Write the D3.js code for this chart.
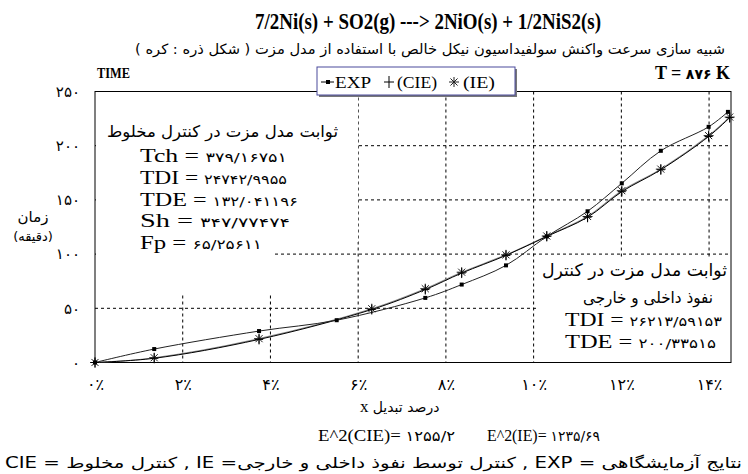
<!DOCTYPE html>
<html>
<head>
<meta charset="utf-8">
<script src="https://cdn.jsdelivr.net/npm/d3@7"></script>
<style>
  body { margin: 0; background: #fff; }
  svg { display: block; }
</style>
</head>
<body>
<div class="chart"></div>
<script>
// axis ticks
const xTicks = [0, 2, 4, 6, 8, 10, 12, 14];
const yTicks = [0, 50, 100, 150, 200, 250];

// experimental points (x in %, time in minutes)
const expX = [0, 1.35, 3.74, 5.51, 7.53, 8.36, 9.37, 10.3, 11.23, 12.01, 12.9, 13.99, 14.43];
const expY = [0, 12.4, 29, 39, 59.6, 71.9, 89.6, 116.3, 139.5, 165.3, 195.3, 217.4, 231.2];

// model points
const modelX = [0, 1.35, 3.74, 6.31, 7.53, 8.36, 9.37, 10.3, 11.23, 12.01, 12.9, 13.99, 14.47];
const cieY = [0, 3.9, 21.3, 48.9, 67.3, 82.5, 98.8, 116.3, 134, 157.6, 177.8, 208.5, 225.9];
const ieY = [0, 4.4, 22.0, 49.6, 68.1, 83.3, 99.3, 116.7, 134.7, 158.5, 178.4, 209.3, 226.4];

const fa = (s) => String(s).replace(/\d/g, (d) => "۰۱۲۳۴۵۶۷۸۹"[d]);
const serif = "'Liberation Serif', 'DejaVu Serif', serif";
const pfont = "'DejaVu Sans', sans-serif";

const width = 748;
const height = 474;
const svg = d3
  .select(".chart")
  .append("svg")
  .attr("width", width)
  .attr("height", height);

svg.append("rect").attr("width", width).attr("height", height).attr("fill", "#fff");

const x = d3.scaleLinear().domain([0, 14.5]).range([95, 731]);
const y = d3.scaleLinear().domain([0, 250]).range([362.5, 91.5]);

// gridlines
svg
  .selectAll(".vgrid")
  .data(xTicks.filter((d) => d > 0))
  .enter()
  .append("line")
  .attr("x1", (d) => x(d))
  .attr("x2", (d) => x(d))
  .attr("y1", y(250))
  .attr("y2", y(0))
  .attr("stroke", "#000")
  .attr("stroke-dasharray", "3,3");

svg
  .selectAll(".hgrid")
  .data(yTicks.filter((d) => d > 0 && d < 250))
  .enter()
  .append("line")
  .attr("x1", x(0))
  .attr("x2", x(14.5))
  .attr("y1", (d) => y(d))
  .attr("y2", (d) => y(d))
  .attr("stroke", "#000")
  .attr("stroke-dasharray", "3,3");

// white boxes behind the notes
svg.append("rect").attr("x", 96).attr("y", 92).attr("width", 262).attr("height", 150).attr("fill", "#fff");
svg.append("rect").attr("x", 96).attr("y", 92).attr("width", 176).attr("height", 201).attr("fill", "#fff");
svg.append("rect").attr("x", 536).attr("y", 258).attr("width", 194).attr("height", 104).attr("fill", "#fff");

// axes
svg
  .append("g")
  .attr("transform", "translate(0," + y(0) + ")")
  .call(d3.axisBottom(x).tickValues(xTicks).tickSize(0).tickPadding(16).tickFormat((d) => fa(d) + "٪"))
  .call((g) => g.select(".domain").remove())
  .selectAll("text")
  .attr("font-family", pfont)
  .attr("font-size", "16px")
  .attr("fill", "#000");

svg
  .append("g")
  .attr("transform", "translate(" + x(0) + ",0)")
  .call(d3.axisLeft(y).tickValues(yTicks).tickSize(0).tickPadding(15).tickFormat((d) => fa(d)))
  .call((g) => g.select(".domain").remove())
  .selectAll("text")
  .attr("font-family", pfont)
  .attr("font-size", "15px")
  .attr("fill", "#000");

// frame
svg
  .append("rect")
  .attr("x", x(0))
  .attr("y", y(250))
  .attr("width", x(14.5) - x(0))
  .attr("height", y(0) - y(250))
  .attr("fill", "none")
  .attr("stroke", "#000");

function addText(tx, ty, str, font, size, opts) {
  opts = opts || {};
  const t = svg
    .append("text")
    .attr("x", tx)
    .attr("y", ty)
    .attr("font-family", font)
    .attr("font-size", size)
    .attr("text-anchor", opts.anchor || "start")
    .attr("font-weight", opts.bold ? "bold" : "normal")
    .attr("fill", "#000")
    .text(str);
  if (opts.rtl) t.attr("direction", "rtl").attr("unicode-bidi", "embed");
  if (opts.len) t.attr("textLength", opts.len).attr("lengthAdjust", "spacingAndGlyphs");
  return t;
}

function mixText(tx, ty, label, num, len) {
  const t = svg.append("text").attr("x", tx).attr("y", ty).attr("fill", "#000");
  t.append("tspan").attr("font-family", serif).attr("font-size", "19px").text(label + " = ");
  t.append("tspan").attr("font-family", pfont).attr("font-size", "13px").text(fa(num));
  if (len) t.attr("textLength", len).attr("lengthAdjust", "spacingAndGlyphs");
}

// left note
addText(338, 137, "ثوابت مدل مزت در کنترل مخلوط", pfont, "16px", { rtl: true, len: 231 });
mixText(140, 162, "Tch", "379/16751", 147);
mixText(140, 184, "TDI", "24742/9955", 147);
mixText(140, 206, "TDE", "132/041196", 158);
mixText(140, 227, "Sh", "347/77474", 150);
mixText(140, 249, "Fp", "65/25611", 122);

// right note
addText(727, 276, "ثوابت مدل مزت در کنترل", pfont, "17px", { rtl: true, len: 185 });
addText(713, 303, "نفوذ داخلی و خارجی", pfont, "16px", { rtl: true, len: 130 });
mixText(565, 326, "TDI", "26213/59153", 157);
mixText(565, 348, "TDE", "200/33515", 151);

// data lines
const line = d3
  .line()
  .x((d) => x(d[0]))
  .y((d) => y(d[1]))
  .curve(d3.curveCatmullRom.alpha(0.5));

const expData = expX.map((v, i) => [v, expY[i]]);
const cieData = modelX.map((v, i) => [v, cieY[i]]);
const ieData = modelX.map((v, i) => [v, ieY[i]]);

svg.append("path").datum(ieData).attr("d", line).attr("fill", "none").attr("stroke", "#8a8a8a").attr("stroke-width", 1.1);
svg.append("path").datum(cieData).attr("d", line).attr("fill", "none").attr("stroke", "#000").attr("stroke-width", 1);
svg.append("path").datum(expData).attr("d", line).attr("fill", "none").attr("stroke", "#222").attr("stroke-width", 1);

function plus(g, s) {
  g.append("line").attr("x1", -s).attr("x2", s).attr("y1", 0).attr("y2", 0).attr("stroke", "#000");
  g.append("line").attr("x1", 0).attr("x2", 0).attr("y1", -s - 1).attr("y2", s + 1).attr("stroke", "#000");
}
function star(g, s) {
  [0, 45, 90, 135].forEach((a) => {
    const r = (a * Math.PI) / 180;
    g.append("line")
      .attr("x1", -s * Math.cos(r))
      .attr("x2", s * Math.cos(r))
      .attr("y1", -s * Math.sin(r))
      .attr("y2", s * Math.sin(r))
      .attr("stroke", "#222");
  });
}

svg
  .selectAll(".iemark")
  .data(ieData)
  .enter()
  .append("g")
  .attr("transform", (d) => "translate(" + x(d[0]) + "," + y(d[1]) + ")")
  .each(function () {
    star(d3.select(this), 5);
  });

svg
  .selectAll(".ciemark")
  .data(cieData)
  .enter()
  .append("g")
  .attr("transform", (d) => "translate(" + x(d[0]) + "," + y(d[1]) + ")")
  .each(function () {
    plus(d3.select(this), 4);
  });

svg
  .selectAll(".expmark")
  .data(expData)
  .enter()
  .append("rect")
  .attr("x", (d) => x(d[0]) - 2)
  .attr("y", (d) => y(d[1]) - 2)
  .attr("width", 4)
  .attr("height", 4)
  .attr("fill", "#000");

// legend
const lg = svg.append("g");
lg.append("rect").attr("x", 319).attr("y", 69).attr("width", 198).attr("height", 28).attr("fill", "#777");
lg.append("rect").attr("x", 317).attr("y", 67).attr("width", 198).attr("height", 28).attr("fill", "#fff").attr("stroke", "#4a4a9c");
lg.append("line").attr("x1", 321).attr("x2", 334).attr("y1", 82).attr("y2", 82).attr("stroke", "#000");
lg.append("rect").attr("x", 326).attr("y", 80).attr("width", 4).attr("height", 4).attr("fill", "#000");
lg.append("text").attr("x", 335).attr("y", 88).attr("font-family", serif).attr("font-size", "17px").attr("textLength", 36).attr("lengthAdjust", "spacingAndGlyphs").text("EXP");
plus(lg.append("g").attr("transform", "translate(389,82)"), 5);
lg.append("text").attr("x", 397).attr("y", 88).attr("font-family", serif).attr("font-size", "17px").attr("textLength", 40).attr("lengthAdjust", "spacingAndGlyphs").text("(CIE)");
star(lg.append("g").attr("transform", "translate(454,82)"), 5);
lg.append("text").attr("x", 463).attr("y", 88).attr("font-family", serif).attr("font-size", "17px").attr("textLength", 32).attr("lengthAdjust", "spacingAndGlyphs").text("(IE)");

// titles and labels
addText(428, 29, "7/2Ni(s) + SO2(g) ---> 2NiO(s) + 1/2NiS2(s)", serif, "24px", { anchor: "middle", bold: true, len: 346 });
addText(725, 54, "شبیه سازی سرعت واکنش سولفیداسیون نیکل خالص با استفاده از مدل مزت ( شکل ذره : کره )", pfont, "14px", { rtl: true, len: 590 });
addText(97, 78, "TIME", serif, "14px", { bold: true, len: 33 });
const tk = svg.append("text").attr("x", 730).attr("y", 79).attr("text-anchor", "end").attr("font-family", serif).attr("font-size", "18px").attr("font-weight", "bold");
tk.append("tspan").text("T = ");
tk.append("tspan").attr("font-family", pfont).attr("font-size", "14px").text(fa(876));
tk.append("tspan").text(" K");

addText(33, 222, "زمان", pfont, "15px", { anchor: "middle" });
addText(33, 241, "(دقیقه)", pfont, "13px", { anchor: "middle", rtl: true });

const xl = svg.append("text").attr("x", 360).attr("y", 412);
xl.append("tspan").attr("font-family", serif).attr("font-size", "17px").text("x ");
xl.append("tspan").attr("font-family", pfont).attr("font-size", "14px").text(" درصد تبدیل");

const e2a = svg.append("text").attr("x", 318).attr("y", 441).attr("font-family", serif).attr("font-size", "16px").attr("textLength", 137).attr("lengthAdjust", "spacingAndGlyphs");
e2a.append("tspan").text("E^2(CIE)= ");
e2a.append("tspan").attr("font-family", pfont).attr("font-size", "14px").text(fa("1255/2"));
const e2b = svg.append("text").attr("x", 487).attr("y", 441).attr("font-family", serif).attr("font-size", "16px").attr("textLength", 113).attr("lengthAdjust", "spacingAndGlyphs");
e2b.append("tspan").text("E^2(IE)= ");
e2b.append("tspan").attr("font-family", pfont).attr("font-size", "14px").text(fa("1235/69"));

addText(742, 468, "نتایج آزمایشگاهی = EXP , کنترل توسط نفوذ داخلی و خارجی= IE , کنترل مخلوط = CIE", pfont, "15px", { rtl: true, len: 737 });
</script>
</body>
</html>
